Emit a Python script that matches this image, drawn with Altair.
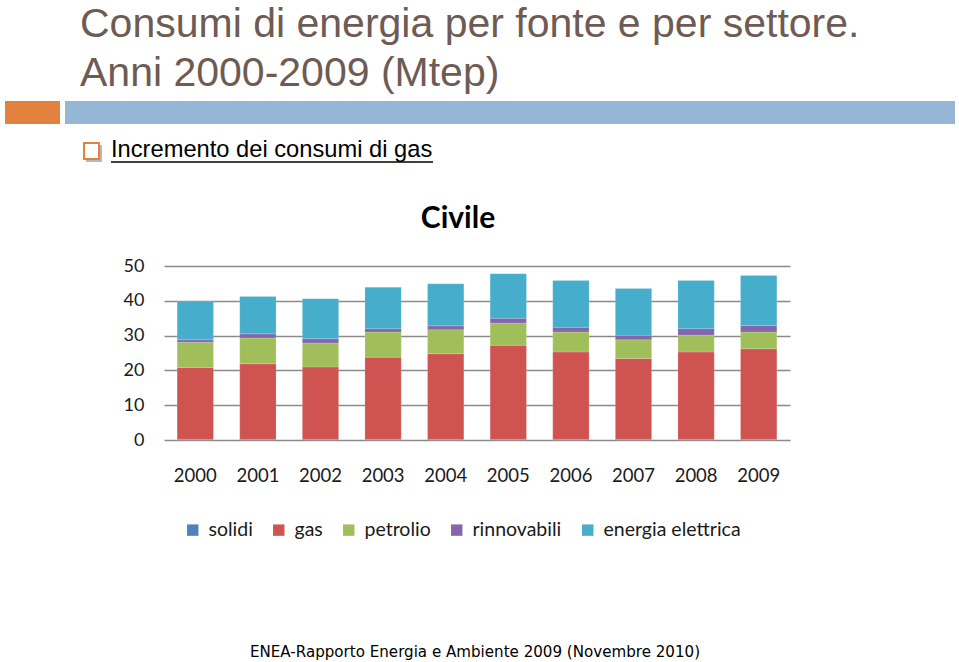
import altair as alt
import pandas as pd

years = ["2000", "2001", "2002", "2003", "2004", "2005", "2006", "2007", "2008", "2009"]
sources = ["solidi", "gas", "petrolio", "rinnovabili", "energia elettrica"]
solidi = [0.2, 0.2, 0.2, 0.2, 0.2, 0.2, 0.2, 0.2, 0.2, 0.2]
gas = [20.6, 21.7, 20.8, 23.6, 24.6, 27.0, 25.1, 23.2, 25.1, 26.0]
petrolio = [7.3, 7.4, 6.9, 7.2, 6.9, 6.4, 5.7, 5.4, 4.8, 4.8]
rinnovabili = [0.7, 1.2, 1.2, 1.0, 1.1, 1.4, 1.4, 1.3, 1.9, 1.9]
energia_elettrica = [11.1, 10.7, 11.5, 11.9, 12.1, 12.8, 13.4, 13.4, 13.8, 14.4]
colors = ["#4F81BD", "#CF5451", "#A0BF5B", "#8466AC", "#46ADCA"]
y_ticks = [0, 10, 20, 30, 40, 50]

series = [solidi, gas, petrolio, rinnovabili, energia_elettrica]
rows = []
for k, (name, vals) in enumerate(zip(sources, series)):
    for yr, v in zip(years, vals):
        rows.append({"anno": yr, "fonte": name, "valore": v, "ord": k})
df = pd.DataFrame(rows)

W, H = 626, 174
PL, PT = 164, 266

bars = alt.Chart(df).mark_bar(stroke="#ffffff", strokeWidth=0.3, strokeOpacity=0.5).encode(
    x=alt.X("anno:N", sort=years, title=None,
            scale=alt.Scale(paddingInner=0.42, paddingOuter=0.21),
            axis=alt.Axis(labelAngle=0, labelFont="Lato", labelFontSize=18.5, labelColor="#1a1a1a",
                          labelPadding=26, domain=False, ticks=False, grid=False)),
    y=alt.Y("valore:Q", stack="zero", title=None,
            scale=alt.Scale(domain=[0, 50], nice=False),
            axis=alt.Axis(values=y_ticks, labelFont="Lato", labelFontSize=18, labelColor="#1a1a1a",
                          labelPadding=20, domain=False, ticks=False, grid=True,
                          gridColor="#8a8a8a", gridWidth=1.5)),
    color=alt.Color("fonte:N", sort=sources,
                    scale=alt.Scale(domain=sources, range=colors),
                    legend=alt.Legend(orient="none", legendX=19, legendY=254, direction="horizontal",
                                      title=None, symbolType="square", symbolSize=130,
                                      symbolStrokeWidth=0, labelFont="Lato", labelFontSize=19.5,
                                      labelColor="#1a1a1a", labelOffset=6, columnPadding=16)),
    order=alt.Order("ord:Q", sort="ascending"),
)

one = alt.Data(values=[{"a": 1}])

def txt(text, x, y, size, color="#000000", font="Liberation Sans", weight="normal", align="left"):
    return alt.Chart(one).mark_text(text=text, font=font, fontSize=size, color=color,
                                    fontWeight=weight, align=align, baseline="alphabetic").encode(
        x=alt.value(x), y=alt.value(y))

def rect(x, x2, y, y2, fill, stroke=None, sw=0):
    kw = dict(fill=fill, strokeWidth=sw)
    if stroke:
        kw["stroke"] = stroke
    return alt.Chart(one).mark_rect(**kw).encode(
        x=alt.value(x), x2=alt.value(x2), y=alt.value(y), y2=alt.value(y2))

title_color = "#6E5B54"
title1 = txt("Consumi di energia per fonte e per settore.", 80 - PL, 37 - PT, 41, title_color)
title2 = txt("Anni 2000-2009 (Mtep)", 80 - PL, 86 - PT, 41, title_color)
orange = rect(5 - PL, 60 - PL, 101 - PT, 124 - PT, "#E3823E")
blue = rect(65 - PL, 955 - PL, 101 - PT, 124 - PT, "#95B6D4")
shadow = rect(86 - PL, 102 - PL, 145 - PT, 162 - PT, "#b8b8b8")
box = rect(84 - PL, 99 - PL, 143 - PT, 159 - PT, "#ffffff", stroke="#E3823E", sw=2)
bullet = txt("Incremento dei consumi di gas", 111 - PL, 157 - PT, 23.7)
underline = alt.Chart(one).mark_rule(color="#000000", strokeWidth=1.5).encode(
    x=alt.value(111 - PL), x2=alt.value(433 - PL), y=alt.value(162 - PT))
civile = txt("Civile", 458 - PL, 228 - PT, 30, "#000000", font="Lato", weight="bold", align="center")
footer = txt("ENEA-Rapporto Energia e Ambiente 2009 (Novembre 2010)", 250 - PL, 657 - PT, 15.1,
             "#000000", font="DejaVu Sans")

chart = alt.layer(
    orange, blue, title1, title2, shadow, box, bullet, underline, civile, footer, bars
).properties(
    width=W, height=H,
    autosize=alt.AutoSizeParams(type="none"),
    padding={"left": PL, "top": PT, "right": 959 - PL - W, "bottom": 662 - PT - H},
    background="#ffffff",
).configure_view(stroke=None)

chart.save("out.html", embed_options={"renderer": "svg", "actions": False})
